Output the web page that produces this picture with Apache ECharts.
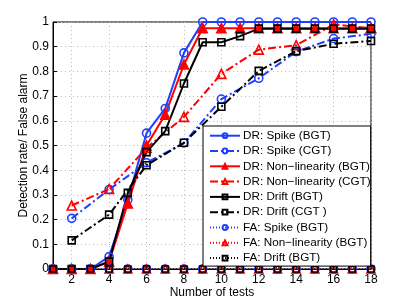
<!DOCTYPE html>
<html><head><meta charset="utf-8">
<script src="https://cdn.jsdelivr.net/npm/echarts@6/dist/echarts.min.js"></script>
<style>html,body{margin:0;padding:0;background:#fff}#c{width:409px;height:304px}</style>
</head><body><div id="c"></div>
<script>
const tests = [1,2,3,4,5,6,7,8,9,10,11,12,13,14,15,16,17,18];
const yTicks = [0,0.1,0.2,0.3,0.4,0.5,0.6,0.7,0.8,0.9,1];
const drSpikeBGT = [0,0,0,0.05,0.28,0.55,0.65,0.875,1,1,1,1,1,1,1,1,1,1];
const drSpikeCGT = [null,0.205,null,0.322,null,0.43,null,0.51,null,0.688,null,0.772,null,0.88,null,0.933,null,0.952];
const drNonlinBGT = [0,0,0,0.03,0.265,0.5,0.625,0.828,0.975,0.975,0.975,0.975,0.975,0.975,0.975,0.975,0.975,0.975];
const drNonlinCGT = [null,0.257,null,0.324,null,0.49,null,0.616,null,0.79,null,0.888,null,0.906,null,0.99,null,0.975];
const drDriftBGT = [0,0,0,0.03,0.308,0.473,0.558,0.751,0.918,0.918,0.943,0.973,0.973,0.973,0.973,0.973,0.973,0.973];
const drDriftCGT = [null,0.116,null,0.22,null,0.42,null,0.511,null,0.657,null,0.802,null,0.882,null,0.912,null,0.923];
const faSpikeBGT = [0,0,0,0,0,0,0,0,0,0,0,0,0,0,0,0,0,0];
const faNonlinBGT = [0,0,0,0,0,0,0,0,0,0,0,0,0,0,0,0,0,0];
const faDriftBGT = [0,0,0,0,0,0,0,0,0,0,0,0,0,0,0,0,0,0];

const BLUE = '#1f3fff', RED = '#ff0000', BLACK = '#000000';
const dashDot = [8,3,2,3];
function mk(name, data, color, symbol, lineType, width, fill, symSize, z) {
  return {
    name, type: 'line', data, connectNulls: true, symbol, symbolSize: symSize,
    showAllSymbol: true, animation: false, z: z || 2,
    lineStyle: { color, width, type: lineType },
    itemStyle: { color: fill ? color : '#ffffff00', borderColor: color, borderWidth: 1.6 },
    emphasis: { disabled: true }
  };
}
const series = [
  mk('DR: Spike (BGT)', drSpikeBGT, BLUE, 'circle', 'solid', 2, false, 8),
  mk('DR: Spike (CGT)', drSpikeCGT, BLUE, 'circle', dashDot, 2, false, 8),
  mk('DR: Non\u2212linearity (BGT)', drNonlinBGT, RED, 'triangle', 'solid', 2, true, 9),
  mk('DR: Non\u2212linearity (CGT)', drNonlinCGT, RED, 'triangle', dashDot, 2, false, 9),
  mk('DR: Drift (BGT)', drDriftBGT, BLACK, 'rect', 'solid', 2, false, 7),
  mk('DR: Drift (CGT )', drDriftCGT, BLACK, 'rect', dashDot, 2, false, 7),
  mk('FA: Spike (BGT)', faSpikeBGT, BLUE, 'circle', [1,2], 1, false, 8),
  mk('FA: Non\u2212linearity (BGT)', faNonlinBGT, RED, 'triangle', [1,2], 1, false, 8),
  mk('FA: Drift (BGT)', faDriftBGT, BLACK, 'rect', [1,2], 1, false, 6)
];
const FONT = 'Liberation Sans, Arial, sans-serif';
const chart = echarts.init(document.getElementById('c'), null, {renderer: 'canvas'});
chart.setOption({
  animation: false,
  backgroundColor: '#fff',
  grid: { left: 53, right: 38, top: 22, bottom: 35, show: true, borderColor: '#000', borderWidth: 1, backgroundColor: 'transparent' },
  xAxis: {
    type: 'category', data: tests.map(String), boundaryGap: false,
    name: 'Number of tests', nameLocation: 'middle', nameGap: 18, nameMoveOverlap: false,
    nameTextStyle: { fontFamily: FONT, fontSize: 12, color: '#000' },
    axisLine: { lineStyle: { color: '#000', width: 1 } },
    axisTick: { inside: true, length: 4, interval: (i, v) => (+v) % 2 === 0, lineStyle: { color: '#000' } },
    axisLabel: { fontFamily: FONT, fontSize: 12, color: '#000', margin: 5, interval: (i, v) => (+v) % 2 === 0 },
    splitLine: { show: true, interval: (i, v) => (+v) % 2 === 0, lineStyle: { color: '#bbb', type: [1,3], width: 1 } }
  },
  yAxis: {
    type: 'value', min: 0, max: 1, interval: 0.1,
    name: 'Detection rate/ False alarm', nameLocation: 'middle', nameGap: 23, nameMoveOverlap: false,
    nameTextStyle: { fontFamily: FONT, fontSize: 12, color: '#000' },
    axisLine: { show: true, lineStyle: { color: '#000', width: 1 } },
    axisTick: { show: true, inside: true, length: 4, lineStyle: { color: '#000' } },
    axisLabel: { fontFamily: FONT, fontSize: 12, color: '#000', margin: 4,
      formatter: v => { const t = yTicks.find(x => Math.abs(x - v) < 1e-6); return t === undefined ? '' : String(t); } },
    splitLine: { show: true, lineStyle: { color: '#bbb', type: [1,3], width: 1 } }
  },
  legend: {
    orient: 'vertical', left: 203, top: 126,
    backgroundColor: '#fff', borderColor: '#000', borderWidth: 1,
    padding: [3.7, 0, 2, 6], itemWidth: 30, itemHeight: 6, itemGap: 3.3,
    textStyle: { fontFamily: FONT, fontSize: 11.7, color: '#000', padding: [0,0,0,-2] },
    selectedMode: false,
    data: series.map(s => s.name)
  },
  series
});
</script></body></html>
